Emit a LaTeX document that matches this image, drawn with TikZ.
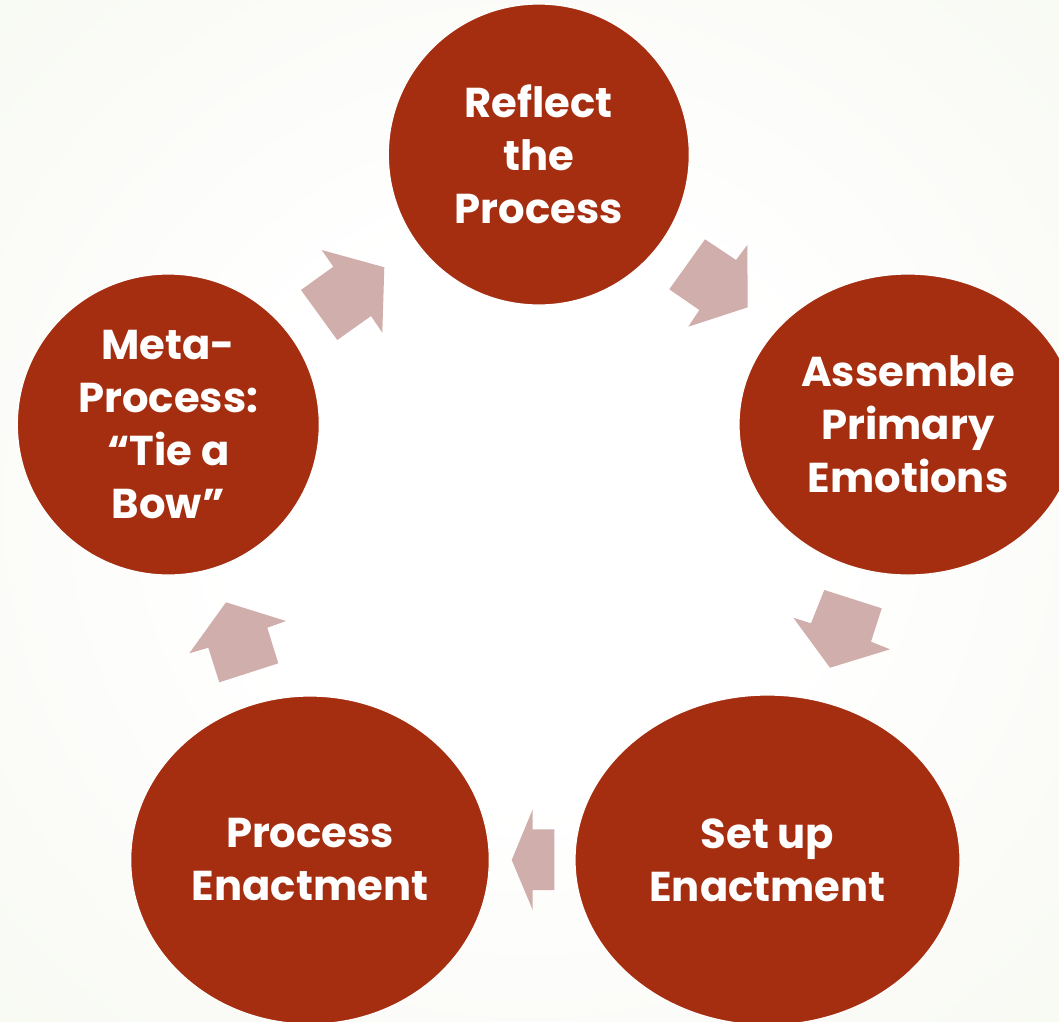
\documentclass[tikz,border=0pt]{standalone}
\usepackage{fontspec}
\newfontfamily\diagfont{Poppins}
\usetikzlibrary{shapes.geometric}
\definecolor{nodefill}{RGB}{165,46,17}
\definecolor{arrowfill}{RGB}{208,174,171}
\definecolor{bgmid}{RGB}{245,247,238}
\definecolor{bgedge}{RGB}{238,242,226}
\pgfdeclareradialshading{bgshade}{\pgfpoint{0bp}{0bp}}{color(0bp)=(white); color(14bp)=(white); color(45bp)=(bgmid); color(72bp)=(bgedge)}
\newlength\refw
\newsavebox\refbox
\AtBeginDocument{%
  \sbox\refbox{\diagfont\bfseries\fontsize{10pt}{12pt}\selectfont Process}%
  \setlength\refw{\wd\refbox}%
  \ifdim\refw<1pt \setlength\refw{36pt}\fi
  \pgfmathsetmacro\fsz{10*168/\refw}%
  \xdef\fsz{\fsz}%
}
\tikzset{
  stepnode/.style={ellipse, fill=nodefill, draw=white, line width=1.2pt, inner sep=0pt, outer sep=0pt},
  labeltext/.style={text=white, align=center, inner sep=0pt,
    font=\diagfont\bfseries\fontsize{\fsz pt}{53pt}\selectfont},
  cyclearrow/.style={fill=arrowfill, draw=none}
}
\begin{document}
\begin{tikzpicture}[x=1pt, y=-1pt]
\useasboundingbox (0,0) rectangle (1059,1021);
\clip (0,0) rectangle (1059,1021);
\shade[shading=bgshade] (0,0) rectangle (1059,1021);

% arrows
\fill[cyclearrow] (705,239.3) -- (736,260) -- (747.3,245) -- (747.7,307.3) -- (688.3,326.7) -- (699.3,310) -- (669.3,289.3) -- cycle;
\fill[cyclearrow] (824.3,590) -- (881.7,608.3) -- (871,641.7) -- (890,649.3) -- (830,667.7) -- (793.3,617.7) -- (811,623.3) -- cycle;
\fill[cyclearrow] (554.3,829.3) -- (554.3,890) -- (532.7,890) -- (532.7,910) -- (511.7,860) -- (532.7,809.3) -- (532.7,829.3) -- cycle;
\fill[cyclearrow] (226,602.3) -- (286,621) -- (267.3,627.7) -- (278.3,663.3) -- (219.3,682.3) -- (208.3,647.7) -- (189.3,653.3) -- cycle;
\fill[cyclearrow] (321.7,250) -- (384.3,267.3) -- (382.3,332.7) -- (371,316) -- (337.3,340) -- (301,290) -- (333.3,266.7) -- cycle;

% nodes
\node[stepnode, minimum width=301pt, minimum height=301pt] (reflect) at (538.8,154.5) {};
\node[stepnode, minimum width=338pt, minimum height=301pt] (assemble) at (908,424.5) {};
\node[stepnode, minimum width=385pt, minimum height=330pt] (setup) at (767.5,860) {};
\node[stepnode, minimum width=358.6pt, minimum height=328pt] (process) at (310,860) {};
\node[stepnode, minimum width=302pt, minimum height=301pt] (meta) at (168.3,424.5) {};

\node[labeltext] (reflect-t) at (reflect.center) {Reflect\\the\\Process};
\node[labeltext] (assemble-t) at (assemble.center) {Assemble\\Primary\\Emotions};
\node[labeltext] (setup-t) at (setup.center) {Set up\\Enactment};
\node[labeltext] (process-t) at (process.center) {Process\\Enactment};
\node[labeltext] (meta-t) at (meta.center) {Meta-\\Process:\\“Tie a\\Bow”};
\end{tikzpicture}
\end{document}
